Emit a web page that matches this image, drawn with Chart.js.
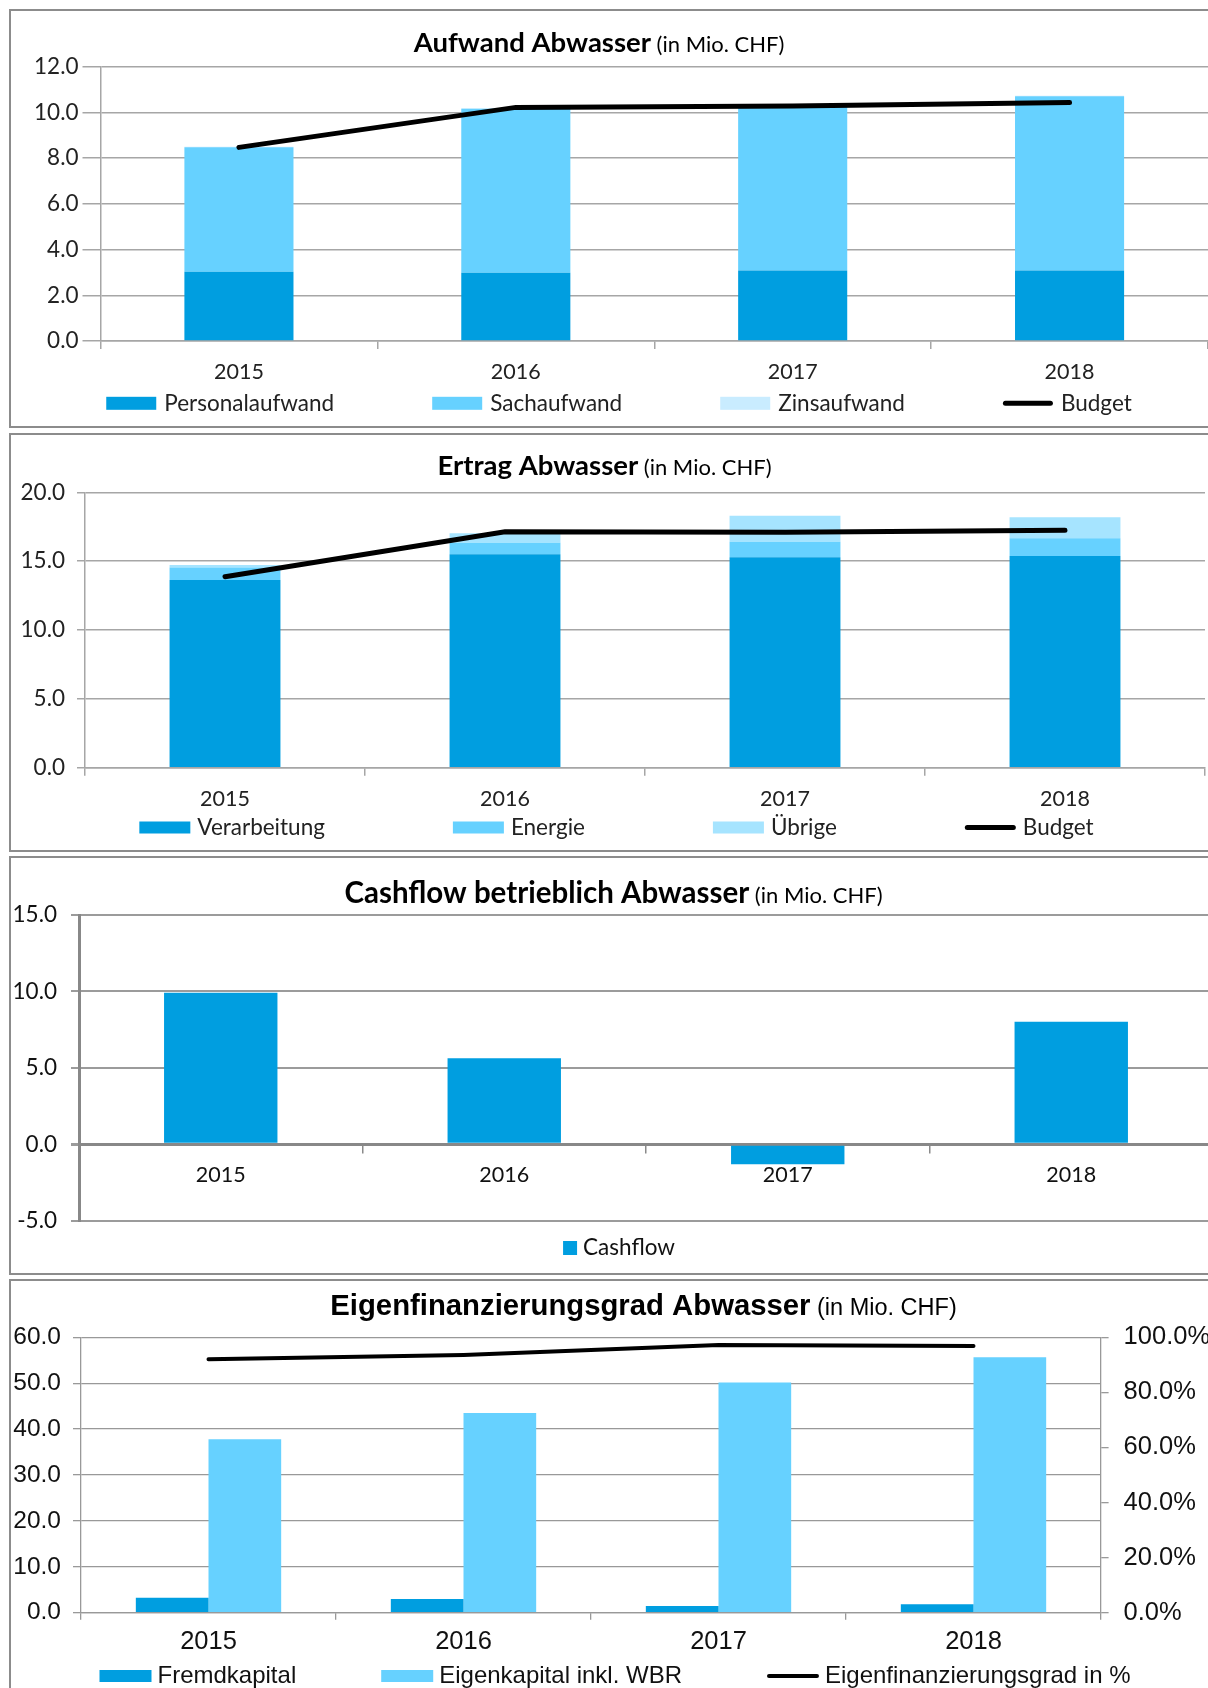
<!DOCTYPE html>
<html>
<head>
<meta charset="utf-8">
<title>Abwasser Kennzahlen</title>
<script src="https://cdn.jsdelivr.net/npm/chart.js@4.4.0/dist/chart.umd.min.js"></script>
<style>
  html, body { margin: 0; padding: 0; background: #fff; width: 1208px; height: 1688px; overflow: hidden; }
  .panel { position: absolute; left: 9px; width: 1240px; height: 419px; border: 2px solid #8c8c8c; box-sizing: border-box; }
  canvas { position: absolute; left: 0; }
</style>
</head>
<body>
<div class="panel" style="top:9px"></div>
<div class="panel" style="top:433px"></div>
<div class="panel" style="top:856px"></div>
<div class="panel" style="top:1279px; height:480px"></div>
<canvas id="aufwand" width="1240" height="419" style="top:9px"></canvas>
<canvas id="ertrag" width="1240" height="419" style="top:433px"></canvas>
<canvas id="cashflow" width="1240" height="419" style="top:856px"></canvas>
<canvas id="eigenfin" width="1240" height="419" style="top:1279px"></canvas>
<script>
// Jahre
const years = ['2015', '2016', '2017', '2018'];

// Aufwand Abwasser (Mio. CHF)
const personalaufwand = [3.03, 2.99, 3.08, 3.08];
const sachaufwand = [5.45, 7.17, 7.20, 7.63];
const zinsaufwand = [0.02, 0.02, 0.02, 0.02];
const budgetAufwand = [8.47, 10.22, 10.28, 10.43];

// Ertrag Abwasser (Mio. CHF)
const verarbeitung = [13.63, 15.50, 15.28, 15.37];
const energie = [0.90, 0.84, 1.13, 1.29];
const uebrige = [0.19, 0.68, 1.89, 1.52];
const budgetErtrag = [13.87, 17.14, 17.09, 17.24];

// Cashflow betrieblich (Mio. CHF)
const cashflow = [9.92, 5.63, -1.31, 8.02];

// Eigenfinanzierung (Mio. CHF / %)
const fremdkapital = [3.27, 2.98, 1.46, 1.82];
const eigenkapital = [37.78, 43.52, 50.13, 55.65];
const eigenfinanzierungsgrad = [92.0, 93.6, 97.2, 96.8];

const DARK = '#009ee0', MID = '#66d1ff', LIGHT = '#a6e4ff', PALE = '#c9ecff';
const CAL = 'Lato, "Open Sans", sans-serif';
const ARIAL = '"Liberation Sans", Arial, sans-serif';

// Title (bold + regular part) and a legend row drawn on the canvas
const panelDecor = {
  id: 'panelDecor',
  afterDraw(chart, args, o) {
    const ctx = chart.ctx;
    ctx.save();
    const t = o.title;
    ctx.textBaseline = 'alphabetic';
    ctx.textAlign = 'left';
    ctx.fillStyle = '#000';
    ctx.font = t.boldFont;
    const w1 = ctx.measureText(t.main).width;
    ctx.font = t.subFont;
    const sp = ctx.measureText(' ').width;
    const w2 = ctx.measureText(t.sub).width;
    const x0 = t.cx - (w1 + sp + w2) / 2;
    ctx.font = t.boldFont;
    ctx.fillText(t.main, x0, t.y);
    ctx.font = t.subFont;
    ctx.fillText(t.sub, x0 + w1 + sp, t.y);

    const L = o.legend;
    ctx.font = L.font;
    const items = chart.data.datasets.map(ds => ({
      label: ds.label,
      line: ds.type === 'line',
      color: ds.type === 'line' ? ds.borderColor : ds.backgroundColor
    }));
    const widths = items.map(it => L.boxW + L.gap + ctx.measureText(it.label).width);
    const total = widths.reduce((a, b) => a + b, 0) + L.spacing * (items.length - 1);
    let lx = L.cx - total / 2;
    ctx.textBaseline = 'middle';
    items.forEach((it, i) => {
      if (it.line) {
        ctx.strokeStyle = it.color;
        ctx.lineWidth = L.lineW;
        ctx.lineCap = 'round';
        ctx.beginPath();
        ctx.moveTo(lx + L.lineW / 2, L.y);
        ctx.lineTo(lx + L.boxW - L.lineW / 2, L.y);
        ctx.stroke();
      } else {
        ctx.fillStyle = it.color;
        ctx.fillRect(lx, L.y - L.boxH / 2, L.boxW, L.boxH);
      }
      ctx.fillStyle = L.color;
      ctx.fillText(it.label, lx + L.boxW + L.gap, L.y + (L.dy || 0));
      lx += widths[i] + L.spacing;
    });
    ctx.restore();
  }
};

const fix1 = v => Number(v).toFixed(1);

function baseOptions() {
  return {
    responsive: false,
    devicePixelRatio: 1,
    animation: false,
    events: [],
    plugins: { legend: { display: false }, title: { display: false }, tooltip: { enabled: false } }
  };
}

// ---------- Aufwand Abwasser ----------
{
  const o = baseOptions();
  o.layout = { padding: { top: 57.7, left: 0, right: 32, bottom: 47 } };
  o.scales = {
    x: {
      stacked: true,
      grid: { offset: true, drawOnChartArea: false, drawTicks: true, tickLength: 8, color: '#a6a6a6', lineWidth: 1.5 },
      border: { display: true, color: '#a6a6a6', width: 1.5 },
      ticks: { font: { family: CAL, size: 21.5 }, color: '#222', padding: 10 },
      afterFit: s => { s.height = 40; }
    },
    y: {
      stacked: true, min: 0, max: 12,
      grid: { color: '#a6a6a6', lineWidth: 1.5, tickLength: 18 },
      border: { display: true, color: '#a6a6a6', width: 1.5 },
      ticks: { stepSize: 2, callback: fix1, font: { family: CAL, size: 22.5 }, color: '#222', padding: 4 },
      afterFit: s => { s.width = 100.5; }
    }
  };
  o.plugins.panelDecor = {
    title: { main: 'Aufwand Abwasser', sub: '(in Mio. CHF)', boldFont: 'bold 27.5px ' + CAL, subFont: '22px ' + CAL, cx: 599, y: 43 },
    legend: { font: '22.5px ' + CAL, color: '#222', boxW: 50, boxH: 13, gap: 8, spacing: 98, lineW: 5, cx: 619, y: 394.3 }
  };
  new Chart(document.getElementById('aufwand'), {
    type: 'bar',
    data: {
      labels: years,
      datasets: [
        { label: 'Personalaufwand', data: personalaufwand, backgroundColor: DARK, categoryPercentage: 1, barPercentage: 0.394, order: 1 },
        { label: 'Sachaufwand', data: sachaufwand, backgroundColor: MID, categoryPercentage: 1, barPercentage: 0.394, order: 1 },
        { label: 'Zinsaufwand', data: zinsaufwand, backgroundColor: PALE, categoryPercentage: 1, barPercentage: 0.394, order: 1 },
        { label: 'Budget', type: 'line', data: budgetAufwand, stack: 'budget', borderColor: '#000', borderWidth: 5, pointRadius: 0, tension: 0, borderCapStyle: 'round', order: 0 }
      ]
    },
    options: o,
    plugins: [panelDecor]
  });
}

// ---------- Ertrag Abwasser ----------
{
  const o = baseOptions();
  o.layout = { padding: { top: 59.3, left: 0, right: 35, bottom: 44.3 } };
  o.scales = {
    x: {
      stacked: true,
      grid: { offset: true, drawOnChartArea: false, drawTicks: true, tickLength: 8, color: '#a6a6a6', lineWidth: 1.5 },
      border: { display: true, color: '#a6a6a6', width: 1.5 },
      ticks: { font: { family: CAL, size: 21.5 }, color: '#222', padding: 10 },
      afterFit: s => { s.height = 40; }
    },
    y: {
      stacked: true, min: 0, max: 20,
      grid: { color: '#a6a6a6', lineWidth: 1.5, tickLength: 8 },
      border: { display: true, color: '#a6a6a6', width: 1.5 },
      ticks: { stepSize: 5, callback: fix1, font: { family: CAL, size: 22.5 }, color: '#222', padding: 12 },
      afterFit: s => { s.width = 85; }
    }
  };
  o.plugins.panelDecor = {
    title: { main: 'Ertrag Abwasser', sub: '(in Mio. CHF)', boldFont: 'bold 27.5px ' + CAL, subFont: '22px ' + CAL, cx: 604.5, y: 42 },
    legend: { font: '22.5px ' + CAL, color: '#222', boxW: 51, boxH: 12, gap: 7, spacing: 128, lineW: 5, cx: 616.5, y: 394.5 }
  };
  new Chart(document.getElementById('ertrag'), {
    type: 'bar',
    data: {
      labels: years,
      datasets: [
        { label: 'Verarbeitung', data: verarbeitung, backgroundColor: DARK, categoryPercentage: 1, barPercentage: 0.396, order: 1 },
        { label: 'Energie', data: energie, backgroundColor: MID, categoryPercentage: 1, barPercentage: 0.396, order: 1 },
        { label: 'Übrige', data: uebrige, backgroundColor: LIGHT, categoryPercentage: 1, barPercentage: 0.396, order: 1 },
        { label: 'Budget', type: 'line', data: budgetErtrag, stack: 'budget', borderColor: '#000', borderWidth: 5, pointRadius: 0, tension: 0, borderCapStyle: 'round', order: 0 }
      ]
    },
    options: o,
    plugins: [panelDecor]
  });
}

// ---------- Cashflow betrieblich Abwasser ----------
{
  const o = baseOptions();
  o.layout = { padding: { top: 59, left: 0, right: 27, bottom: 54.3 } };
  o.scales = {
    x: {
      position: { y: 0 },
      grid: { offset: true, drawOnChartArea: false, drawTicks: true, tickLength: 7.5, color: '#8a8a8a', lineWidth: 1.5 },
      border: { display: true, color: '#888', width: 3 },
      ticks: { font: { family: CAL, size: 21.5 }, color: '#111', padding: 10 }
    },
    y: {
      min: -5, max: 15,
      grid: { color: '#9b9b9b', lineWidth: c => (c.tick && c.tick.value === 0 ? 3 : 2), tickLength: 8 },
      border: { display: true, color: '#888', width: 3 },
      ticks: { stepSize: 5, callback: fix1, font: { family: CAL, size: 22.5 }, color: '#111', padding: 14 },
      afterFit: s => { s.width = 79; }
    }
  };
  o.plugins.panelDecor = {
    title: { main: 'Cashflow betrieblich Abwasser', sub: '(in Mio. CHF)', boldFont: 'bold 29.5px ' + CAL, subFont: '22px ' + CAL, cx: 613.5, y: 46.7 },
    legend: { font: '22.5px ' + CAL, color: '#111', boxW: 14, boxH: 14, gap: 6, spacing: 0, lineW: 5, cx: 619, y: 392 }
  };
  new Chart(document.getElementById('cashflow'), {
    type: 'bar',
    data: {
      labels: years,
      datasets: [
        { label: 'Cashflow', data: cashflow, backgroundColor: DARK, categoryPercentage: 1, barPercentage: 0.4 }
      ]
    },
    options: o,
    plugins: [panelDecor]
  });
}

// ---------- Eigenfinanzierungsgrad Abwasser ----------
{
  const o = baseOptions();
  o.layout = { padding: { top: 58.3, left: 0, right: 0, bottom: 45.3 } };
  o.scales = {
    x: {
      grid: { offset: true, drawOnChartArea: false, drawTicks: true, tickLength: 7, color: '#999', lineWidth: 1.3 },
      border: { display: true, color: '#999', width: 1.3 },
      ticks: { font: { family: ARIAL, size: 25.5 }, color: '#111', padding: 7 },
      afterFit: s => { s.height = 40; }
    },
    y: {
      position: 'left', min: 0, max: 60,
      grid: { color: '#999', lineWidth: 1.3, tickLength: 8 },
      border: { display: true, color: '#999', width: 1.3 },
      ticks: { stepSize: 10, callback: fix1, font: { family: ARIAL, size: 24.5 }, color: '#111', padding: 12 },
      afterFit: s => { s.width = 81; }
    },
    y2: {
      position: 'right', min: 0, max: 100,
      grid: { drawOnChartArea: false, color: '#999', lineWidth: 1.3, tickLength: 7.6 },
      border: { display: true, color: '#999', width: 1.3 },
      ticks: { stepSize: 20, callback: v => Number(v).toFixed(1) + '%', font: { family: ARIAL, size: 25.5 }, color: '#111', padding: 15 },
      afterFit: s => { s.width = 139; }
    }
  };
  o.plugins.panelDecor = {
    title: { main: 'Eigenfinanzierungsgrad Abwasser', sub: '(in Mio. CHF)', boldFont: 'bold 29.3px ' + ARIAL, subFont: '23.5px ' + ARIAL, cx: 643.5, y: 36 },
    legend: { font: '24px ' + ARIAL, color: '#111', boxW: 52, boxH: 12, gap: 6, spacing: 85, lineW: 4, cx: 615, y: 397 }
  };
  new Chart(document.getElementById('eigenfin'), {
    type: 'bar',
    data: {
      labels: years,
      datasets: [
        { label: 'Fremdkapital', data: fremdkapital, backgroundColor: DARK, categoryPercentage: 0.57, barPercentage: 1, yAxisID: 'y', order: 1 },
        { label: 'Eigenkapital inkl. WBR', data: eigenkapital, backgroundColor: MID, categoryPercentage: 0.57, barPercentage: 1, yAxisID: 'y', order: 1 },
        { label: 'Eigenfinanzierungsgrad in %', type: 'line', data: eigenfinanzierungsgrad, yAxisID: 'y2', borderColor: '#000', borderWidth: 4, pointRadius: 0, tension: 0, borderCapStyle: 'round', order: 0 }
      ]
    },
    options: o,
    plugins: [panelDecor]
  });
}
</script>
</body>
</html>
